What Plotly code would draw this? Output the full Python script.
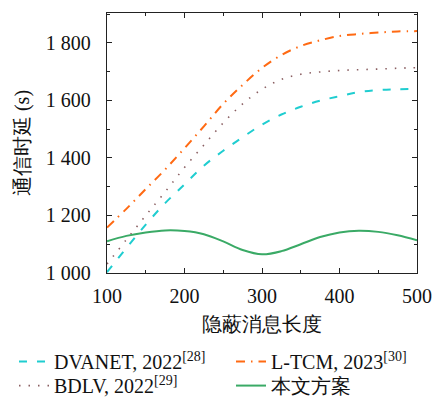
import plotly.graph_objects as go

x_len = [100, 125, 150, 175, 200, 225, 250, 275, 300, 325, 350, 375, 400, 425, 450, 475, 500]
dvanet = [1003, 1087, 1168, 1243, 1308, 1373, 1425, 1472, 1516, 1551, 1578, 1599, 1615, 1629, 1636, 1639, 1640]
ltcm = [1158, 1223, 1292, 1360, 1434, 1510, 1588, 1654, 1713, 1758, 1789, 1809, 1824, 1831, 1836, 1840, 1841]
bdlv = [1031, 1116, 1200, 1282, 1367, 1445, 1522, 1588, 1639, 1673, 1691, 1699, 1704, 1707, 1709, 1712, 1714]
ours = [1110, 1129, 1141, 1148, 1146, 1135, 1110, 1080, 1065, 1076, 1100, 1125, 1141, 1147, 1143, 1131, 1114]

y_tickvals = [1000, 1200, 1400, 1600, 1800]
y_ticktext = ["1 000", "1 200", "1 400", "1 600", "1 800"]
x_tickvals = [100, 200, 300, 400, 500]
x_ticktext = ["100", "200", "300", "400", "500"]

names = ["DVANET, 2022<sup>[28]</sup>", "L-TCM, 2023<sup>[30]</sup>",
         "BDLV, 2022<sup>[29]</sup>", "本文方案"]

FONT = "Liberation Serif"

fig = go.Figure()
fig.add_trace(go.Scatter(x=x_len, y=dvanet, mode="lines", name=names[0], line_shape="spline",
                         legend="legend",
                         line=dict(color="#1fcdd0", width=2, dash="8px,10px")))
fig.add_trace(go.Scatter(x=x_len, y=ltcm, mode="lines", name=names[1], line_shape="spline",
                         legend="legend2",
                         line=dict(color="#ff6a13", width=2, dash="9px,6px,1.5px,6px")))
fig.add_trace(go.Scatter(x=x_len, y=bdlv, mode="lines", name=names[2], line_shape="spline",
                         legend="legend3",
                         line=dict(color="#8a5f62", width=1.6, dash="1.5px,8px")))
fig.add_trace(go.Scatter(x=x_len, y=ours, mode="lines", name=names[3], line_shape="spline",
                         legend="legend4",
                         line=dict(color="#3aaa66", width=2)))

axis_common = dict(
    showline=True, linecolor="#222", linewidth=1.3, mirror="allticks",
    ticks="inside", ticklen=5, tickwidth=1.2, tickcolor="#222",
    showgrid=False, zeroline=False,
    tickfont=dict(family=FONT, size=20, color="#111"),
)

fig.update_xaxes(range=[100, 500], tickvals=x_tickvals, ticktext=x_ticktext,
                 minor=dict(ticks="inside", ticklen=3, dtick=50, tick0=100, tickcolor="#222", showgrid=False),
                 title=dict(text="隐蔽消息长度", font=dict(family=FONT, size=20, color="#111"), standoff=10),
                 ticklabelstandoff=5,
                 **axis_common)
fig.update_yaxes(range=[1000, 1904], tickvals=y_tickvals, ticktext=y_ticktext,
                 minor=dict(ticks="inside", ticklen=3, dtick=100, tick0=1000, tickcolor="#222", showgrid=False),
                 title=dict(text="通信时延 (s)", font=dict(family=FONT, size=20, color="#111"), standoff=10),
                 ticklabelstandoff=11,
                 **axis_common)

legend_common = dict(orientation="v", xref="paper", yref="paper",
                     xanchor="left", yanchor="top", itemwidth=30, tracegroupgap=0,
                     bgcolor="rgba(0,0,0,0)", font=dict(family=FONT, size=20, color="#111"))

fig.update_layout(
    width=436, height=401,
    margin=dict(l=107, r=19, t=13, b=128, autoexpand=False),
    paper_bgcolor="white", plot_bgcolor="white",
    font=dict(family=FONT, size=20, color="#111"),
    showlegend=True,
    legend=dict(x=-0.30, y=-0.265, **legend_common),
    legend2=dict(x=0.40, y=-0.265, **legend_common),
    legend3=dict(x=-0.30, y=-0.358, **legend_common),
    legend4=dict(x=0.40, y=-0.358, **legend_common),
)

fig.write_html("out.html", config={"displayModeBar": False},
               post_script="document.body.style.margin='0px';")
